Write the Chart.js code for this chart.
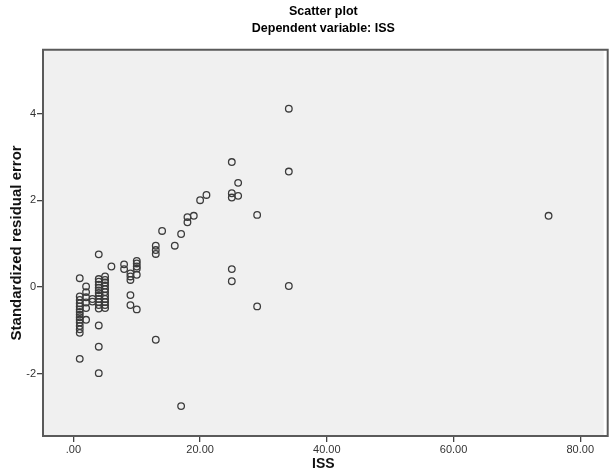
<!DOCTYPE html>
<html>
<head>
<meta charset="utf-8">
<script src="https://cdn.jsdelivr.net/npm/chart.js@4.4.0/dist/chart.umd.min.js"></script>
<style>
  html, body { margin: 0; padding: 0; background: #fff; }
  #wrap { width: 609px; height: 475px; }
</style>
</head>
<body>
<div id="wrap"><canvas id="chart" width="609" height="475"></canvas></div>
<script>
// ISS 值与对应的标准化残差
const issValues = [
  1, 1, 1, 1, 1, 1, 1, 1, 1, 1, 1, 1, 1, 1, 1,
  2, 2, 2, 2, 2, 2,
  3, 3,
  4, 4, 4, 4, 4, 4, 4, 4, 4, 4, 4, 4, 4, 4, 4,
  5, 5, 5, 5, 5, 5, 5, 5, 5, 5, 5,
  6,
  8, 8,
  9, 9, 9, 9, 9,
  10, 10, 10, 10, 10, 10,
  13, 13, 13, 13,
  14, 16, 17, 17,
  18, 18, 19, 20, 21,
  25, 25, 25, 25, 25,
  26, 26,
  29, 29,
  34, 34, 34,
  75
];
const residuals = [
  0.20, -0.22, -0.30, -0.38, -0.45, -0.52, -0.58, -0.64, -0.70, -0.76, -0.82, -0.90, -0.98, -1.06, -1.66,
  0.01, -0.12, -0.24, -0.36, -0.49, -0.76,
  -0.34, -0.28,
  0.75, 0.18, 0.12, 0.05, -0.02, -0.08, -0.14, -0.20, -0.28, -0.35, -0.42, -0.50, -0.89, -1.38, -1.99,
  0.24, 0.16, 0.10, 0.03, -0.05, -0.12, -0.20, -0.28, -0.35, -0.42, -0.49,
  0.47,
  0.52, 0.41,
  0.31, 0.24, 0.16, -0.19, -0.42,
  0.60, 0.54, 0.47, 0.42, 0.28, -0.52,
  0.95, 0.85, 0.76, -1.22,
  1.29, 0.95, 1.22, -2.75,
  1.61, 1.49, 1.64, 2.00, 2.12,
  2.88, 2.16, 2.06, 0.41, 0.13,
  2.40, 2.10,
  1.66, -0.45,
  4.11, 2.66, 0.02,
  1.64
];
const xTicks = [0, 20, 40, 60, 80];
const yTicks = [-2, 0, 2, 4];

const points = issValues.map((x, i) => ({ x: x, y: residuals[i] }));

// 绘图区背景与边框
const plotFrame = {
    id: 'plotFrame',
    beforeDatasetsDraw: function(chart) {
        const a = chart.chartArea;
        const ctx = chart.ctx;
        ctx.save();
        ctx.fillStyle = '#f0f0f0';
        ctx.fillRect(a.left, a.top, a.right - a.left, a.bottom - a.top);
        ctx.strokeStyle = '#5a5a5a';
        ctx.lineWidth = 2;
        ctx.strokeRect(a.left, a.top, a.right - a.left + 4, a.bottom - a.top);
        ctx.restore();
    }
};

const font = 'Liberation Sans, Arial, sans-serif';

new Chart(document.getElementById('chart'), {
    type: 'scatter',
    data: {
        datasets: [{
            data: points,
            pointStyle: 'circle',
            pointRadius: 3.3,
            pointBorderWidth: 1.3,
            pointBorderColor: '#3c3c3c',
            pointBackgroundColor: 'rgba(0,0,0,0)'
        }]
    },
    options: {
        responsive: false,
        animation: false,
        layout: { padding: 0 },
        plugins: {
            legend: { display: false },
            tooltip: { enabled: false },
            title: {
                display: true,
                fullSize: false,
                text: ['Scatter plot', 'Dependent variable: ISS'],
                color: '#000',
                font: { family: font, size: 12.5, weight: 'bold', lineHeight: 1.35 },
                padding: { top: 3, bottom: 13 }
            }
        },
        scales: {
            x: {
                type: 'linear',
                min: -4.8,
                max: 83.7,
                afterBuildTicks: s => { s.ticks = xTicks.map(v => ({ value: v })); },
                afterFit: s => { s.height = 39; },
                grid: { drawOnChartArea: false, drawTicks: true, tickLength: 6, color: '#444', lineWidth: 1.3 },
                border: { display: false },
                ticks: {
                    color: '#333',
                    font: { family: font, size: 11 },
                    padding: 1,
                    maxRotation: 0,
                    callback: v => v === 0 ? '.00' : v.toFixed(2)
                },
                title: {
                    display: true,
                    text: 'ISS',
                    color: '#111',
                    font: { family: font, size: 14, weight: 'bold' },
                    padding: { top: 0, bottom: 2 }
                }
            },
            y: {
                type: 'linear',
                min: -3.44,
                max: 5.47,
                afterBuildTicks: s => { s.ticks = yTicks.map(v => ({ value: v })); },
                afterFit: s => { s.width = 43; },
                grid: { drawOnChartArea: false, drawTicks: true, tickLength: 6, color: '#444', lineWidth: 1.3 },
                border: { display: false },
                ticks: {
                    color: '#333',
                    font: { family: font, size: 11 },
                    padding: 1
                },
                title: {
                    display: true,
                    text: 'Standardized residual error',
                    color: '#111',
                    font: { family: font, size: 15, weight: 'bold' },
                    padding: { top: 8, bottom: 4 }
                }
            }
        }
    },
    plugins: [plotFrame]
});
</script>
</body>
</html>
